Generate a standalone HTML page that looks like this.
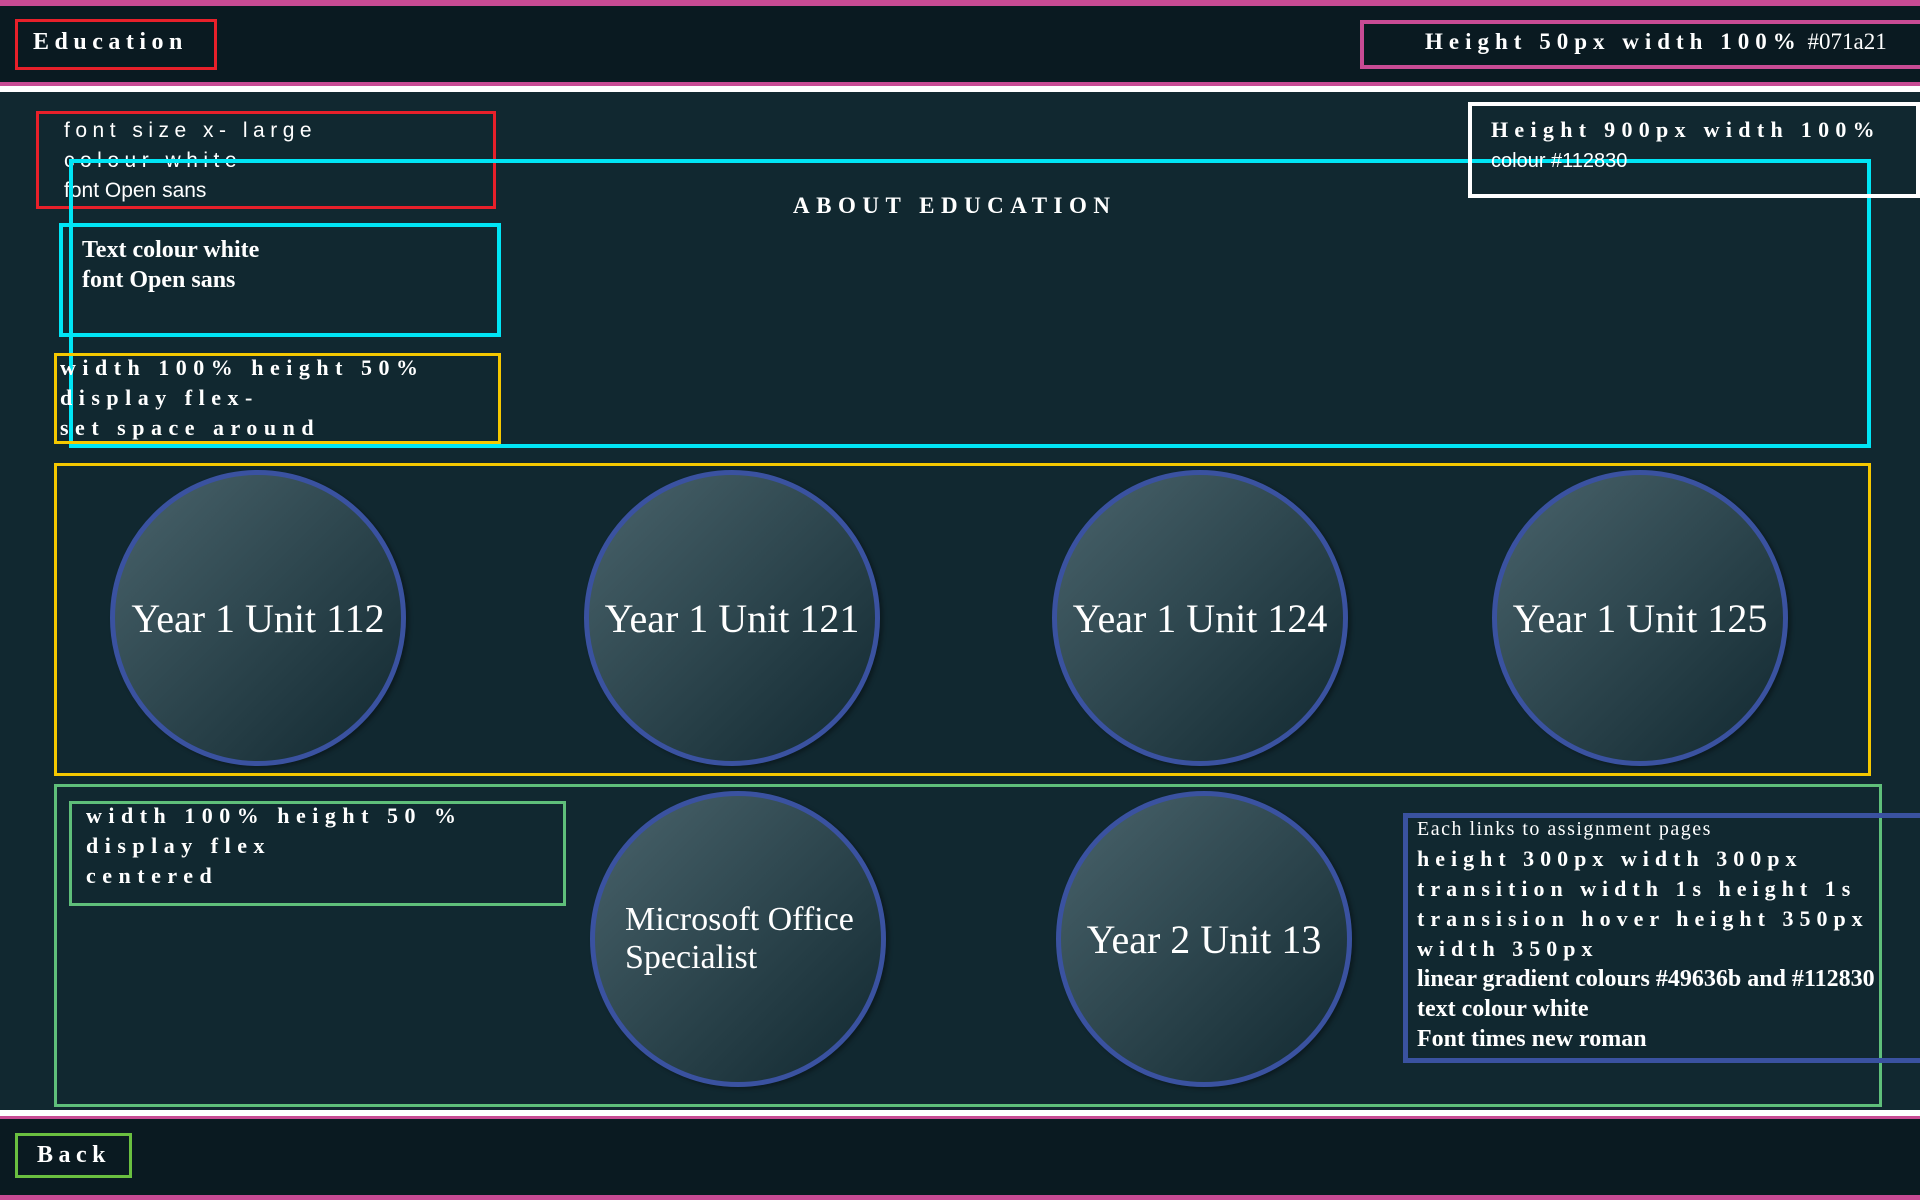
<!DOCTYPE html>
<html><head><meta charset="utf-8"><style>
*{margin:0;padding:0;box-sizing:border-box}
body{width:1920px;height:1200px;background:#112830;position:relative;overflow:hidden;font-family:"Liberation Serif",serif;color:#fff}
.a{position:absolute}
.box{position:absolute;border-style:solid}
.t{position:absolute;white-space:nowrap;line-height:1}
.b{font-weight:bold}
.c{position:absolute;width:296px;height:296px;border-radius:50%;border:5px solid #3a52a0;background:linear-gradient(135deg,#49636b,#112830);display:flex;align-items:center;justify-content:center;text-align:center;font-size:40px;box-shadow:3px 2px 4px rgba(0,0,0,.35)}
</style></head><body>
<div class="a" style="left:0;top:0;width:1920px;height:83px;background:#0a1a21;border-top:6px solid #c84b94"></div>
<div class="a" style="left:0;top:82px;width:1920px;height:4px;background:#c84b94"></div>
<div class="a" style="left:0;top:86px;width:1920px;height:6px;background:#fff"></div>

<div class="box" style="left:15px;top:19px;width:202px;height:51px;border-width:3px;border-color:#e8202a"></div>
<div class="t b" style="left:33px;top:30px;font-size:24px;letter-spacing:5.5px">Education</div>
<div class="box" style="left:1360px;top:20px;width:570px;height:49px;border-width:4px;border-color:#c84b94"></div>
<div class="t" style="left:1425px;top:30px;font-size:23px"><b style="letter-spacing:6px">Height 50px width 100%</b> #071a21</div>

<div class="box" style="left:36px;top:111px;width:460px;height:98px;border-width:3px;border-color:#e8202a"></div>
<div class="t" style="left:64px;top:116px;font-family:'Liberation Sans',sans-serif;font-size:21px;line-height:30px;letter-spacing:5.5px">font size x- large<br>colour white<br><span style="letter-spacing:0">font Open sans</span></div>

<div class="box" style="left:69px;top:159px;width:1802px;height:289px;border-width:4px;border-color:#00e5f5"></div>
<div class="t b" style="left:793px;top:194px;font-size:23px;letter-spacing:6.5px">ABOUT EDUCATION</div>

<div class="box" style="left:59px;top:223px;width:442px;height:114px;border-width:4px;border-color:#00e5f5"></div>
<div class="t b" style="left:82px;top:235px;font-size:24px;line-height:30px">Text colour white<br>font Open sans</div>

<div class="box" style="left:54px;top:353px;width:447px;height:91px;border-width:3px;border-color:#f5c800"></div>
<div class="t b" style="left:60px;top:353px;font-size:22px;line-height:30px;letter-spacing:6.5px">width 100% height 50%<br>display flex-<br>set space around</div>

<div class="box" style="left:1468px;top:102px;width:452px;height:96px;border-width:4px;border-color:#fff"></div>
<div class="t" style="left:1491px;top:115px;font-size:22px;line-height:30px"><b style="letter-spacing:6.3px">Height 900px width 100%</b><br><span style="font-family:'Liberation Sans',sans-serif;font-size:20px">colour #112830</span></div>

<div class="box" style="left:54px;top:463px;width:1817px;height:313px;border-width:3px;border-color:#f5c800"></div>
<div class="c" style="left:110px;top:470px">Year 1 Unit 112</div>
<div class="c" style="left:584px;top:470px">Year 1 Unit 121</div>
<div class="c" style="left:1052px;top:470px">Year 1 Unit 124</div>
<div class="c" style="left:1492px;top:470px">Year 1 Unit 125</div>

<div class="box" style="left:54px;top:784px;width:1828px;height:323px;border-width:3px;border-color:#5fbf7a"></div>
<div class="box" style="left:69px;top:801px;width:497px;height:105px;border-width:3px;border-color:#5fbf7a"></div>
<div class="t b" style="left:86px;top:801px;font-size:22px;line-height:30px;letter-spacing:6.5px">width 100% height 50 %<br>display flex<br>centered</div>
<div class="c" style="left:590px;top:791px;font-size:34px;text-align:left;justify-content:flex-start;padding-left:30px">Microsoft Office<br>Specialist</div>
<div class="c" style="left:1056px;top:791px">Year 2 Unit 13</div>

<div class="box" style="left:1403px;top:813px;width:525px;height:250px;border-width:5px;border-color:#3a52a0"></div>
<div class="t" style="left:1417px;top:813px;font-size:23px;line-height:30px"><span style="font-size:20px;letter-spacing:1.5px">Each links to assignment pages</span><br><b style="letter-spacing:6px;font-size:22px">height 300px width 300px<br>transition width 1s height 1s<br>transision hover height 350px<br>width 350px</b><br><b style="font-size:24px">linear gradient colours #49636b and #112830<br>text colour white<br>Font times new roman</b></div>

<div class="a" style="left:0;top:1110px;width:1920px;height:6px;background:#fff"></div>
<div class="a" style="left:0;top:1116px;width:1920px;height:84px;background:#0a1a21;border-top:3px solid #c84b94;border-bottom:5px solid #c84b94"></div>
<div class="box" style="left:15px;top:1133px;width:117px;height:45px;border-width:3px;border-color:#6abf40"></div>
<div class="t b" style="left:37px;top:1143px;font-size:24px;letter-spacing:5.5px">Back</div>
</body></html>
